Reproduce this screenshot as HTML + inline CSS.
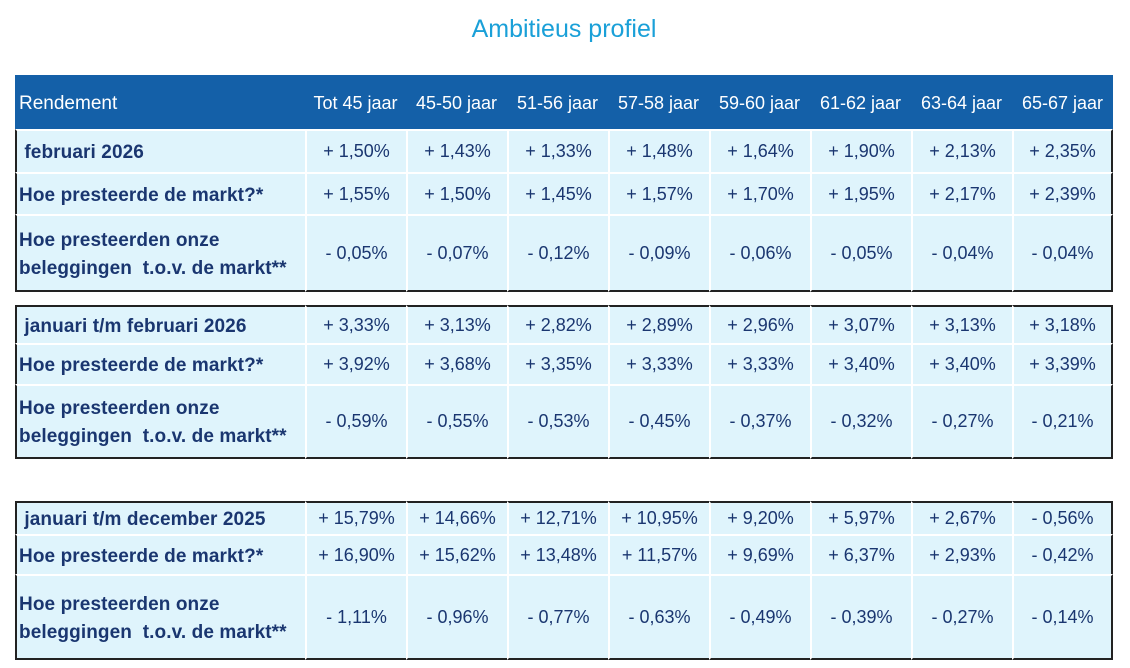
<!DOCTYPE html>
<html><head><meta charset="utf-8"><style>
body{margin:0;width:1130px;height:668px;background:#fff;position:relative;font-family:"Liberation Sans",sans-serif;overflow:hidden}
.title{position:absolute;top:15px;left:0;width:1128px;text-align:center;color:#1aa0d8;font-size:25px}
table{position:absolute;left:15px;width:1098px;border-collapse:separate;border-spacing:0;table-layout:fixed;color:#1a3670}
td,th{box-sizing:border-box;padding:0;font-size:18px;text-align:center;background:#dff4fc;border-left:2px solid #fff;border-top:2px solid #fff;white-space:nowrap}
td:first-child{border-left:2px solid #222;text-align:left;font-weight:bold;padding-left:2px;padding-top:3px;font-size:19px;line-height:28px;letter-spacing:0.1px}
td:last-child{border-right:2px solid #222}
tr.last td{border-bottom:2px solid #222}
tr.first td{border-top:2px solid #222}
th{background:#1460a8;color:#fff;font-weight:normal;border:none;font-size:18px;padding-top:2px}
th:first-child{text-align:left;padding-left:4px;font-size:19px;padding-top:4px}
</style></head><body>
<div class="title">Ambitieus profiel</div>
<table style="top:75px">
<colgroup><col style="width:290px"><col span="8" style="width:101px"></colgroup>
<tr style="height:54px"><th>Rendement</th><th>Tot 45 jaar</th><th>45-50 jaar</th><th>51-56 jaar</th><th>57-58 jaar</th><th>59-60 jaar</th><th>61-62 jaar</th><th>63-64 jaar</th><th>65-67 jaar</th></tr>
<tr style="height:43px"><td>&nbsp;februari 2026</td><td>+ 1,50%</td><td>+ 1,43%</td><td>+ 1,33%</td><td>+ 1,48%</td><td>+ 1,64%</td><td>+ 1,90%</td><td>+ 2,13%</td><td>+ 2,35%</td></tr>
<tr style="height:42px"><td>Hoe presteerde de markt?*</td><td>+ 1,55%</td><td>+ 1,50%</td><td>+ 1,45%</td><td>+ 1,57%</td><td>+ 1,70%</td><td>+ 1,95%</td><td>+ 2,17%</td><td>+ 2,39%</td></tr>
<tr class="last" style="height:78px"><td>Hoe presteerden onze<br>beleggingen&nbsp; t.o.v. de markt**</td><td>- 0,05%</td><td>- 0,07%</td><td>- 0,12%</td><td>- 0,09%</td><td>- 0,06%</td><td>- 0,05%</td><td>- 0,04%</td><td>- 0,04%</td></tr>
</table>
<table style="top:305px">
<colgroup><col style="width:290px"><col span="8" style="width:101px"></colgroup>
<tr class="first" style="height:38px"><td>&nbsp;januari t/m februari 2026</td><td>+ 3,33%</td><td>+ 3,13%</td><td>+ 2,82%</td><td>+ 2,89%</td><td>+ 2,96%</td><td>+ 3,07%</td><td>+ 3,13%</td><td>+ 3,18%</td></tr>
<tr style="height:41px"><td>Hoe presteerde de markt?*</td><td>+ 3,92%</td><td>+ 3,68%</td><td>+ 3,35%</td><td>+ 3,33%</td><td>+ 3,33%</td><td>+ 3,40%</td><td>+ 3,40%</td><td>+ 3,39%</td></tr>
<tr class="last" style="height:75px"><td>Hoe presteerden onze<br>beleggingen&nbsp; t.o.v. de markt**</td><td>- 0,59%</td><td>- 0,55%</td><td>- 0,53%</td><td>- 0,45%</td><td>- 0,37%</td><td>- 0,32%</td><td>- 0,27%</td><td>- 0,21%</td></tr>
</table>
<table style="top:501px">
<colgroup><col style="width:290px"><col span="8" style="width:101px"></colgroup>
<tr class="first" style="height:33px"><td>&nbsp;januari t/m december 2025</td><td>+ 15,79%</td><td>+ 14,66%</td><td>+ 12,71%</td><td>+ 10,95%</td><td>+ 9,20%</td><td>+ 5,97%</td><td>+ 2,67%</td><td>- 0,56%</td></tr>
<tr style="height:40px"><td>Hoe presteerde de markt?*</td><td>+ 16,90%</td><td>+ 15,62%</td><td>+ 13,48%</td><td>+ 11,57%</td><td>+ 9,69%</td><td>+ 6,37%</td><td>+ 2,93%</td><td>- 0,42%</td></tr>
<tr class="last" style="height:86px"><td>Hoe presteerden onze<br>beleggingen&nbsp; t.o.v. de markt**</td><td>- 1,11%</td><td>- 0,96%</td><td>- 0,77%</td><td>- 0,63%</td><td>- 0,49%</td><td>- 0,39%</td><td>- 0,27%</td><td>- 0,14%</td></tr>
</table>
</body></html>
